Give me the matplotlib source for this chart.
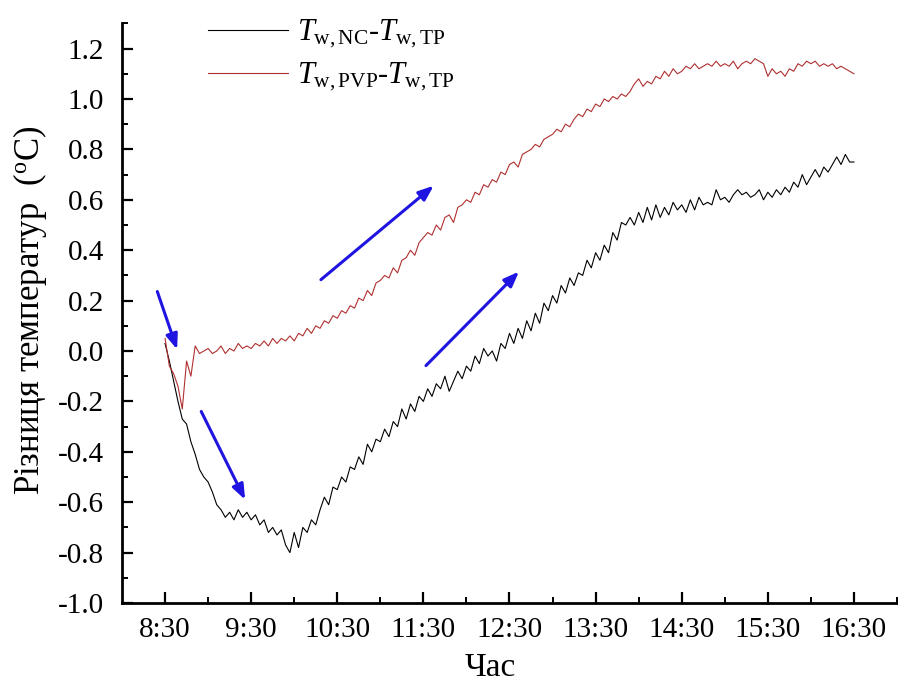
import numpy as np
import matplotlib
matplotlib.use("Agg")
import matplotlib.pyplot as plt
from matplotlib.ticker import MultipleLocator, FixedLocator

plt.rcParams['font.family'] = ['Liberation Serif', 'DejaVu Serif']
plt.rcParams['mathtext.fontset'] = 'custom'
plt.rcParams['mathtext.rm'] = 'Liberation Serif'
plt.rcParams['mathtext.it'] = 'Liberation Serif:italic'

# time in hours, one sample every 3 minutes from 8:30 to 16:30
t_start, t_step = 8.5, 0.05

nc_minus_tp = [
    0.03, -0.04, -0.12, -0.20, -0.27, -0.29, -0.36, -0.41, -0.47, -0.50,
    -0.52, -0.56, -0.61, -0.63, -0.66, -0.64, -0.67, -0.63, -0.66, -0.64,
    -0.67, -0.65, -0.69, -0.67, -0.72, -0.70, -0.73, -0.71, -0.77, -0.80,
    -0.72, -0.78, -0.70, -0.72, -0.67, -0.69, -0.63, -0.58, -0.61, -0.54,
    -0.55, -0.50, -0.52, -0.46, -0.47, -0.42, -0.45, -0.37, -0.40, -0.35,
    -0.36, -0.31, -0.34, -0.28, -0.30, -0.23, -0.27, -0.21, -0.24, -0.18,
    -0.20, -0.15, -0.18, -0.13, -0.15, -0.10, -0.16, -0.12, -0.08, -0.11,
    -0.06, -0.08, -0.02, -0.05, 0.01, -0.02, 0.00, -0.04, 0.03, 0.01,
    0.07, 0.03, 0.09, 0.05, 0.12, 0.08, 0.15, 0.11, 0.19, 0.16,
    0.22, 0.19, 0.26, 0.23, 0.29, 0.26, 0.31, 0.30, 0.36, 0.33,
    0.39, 0.36, 0.42, 0.39, 0.47, 0.44, 0.51, 0.50, 0.53, 0.50,
    0.55, 0.51, 0.57, 0.52, 0.58, 0.53, 0.57, 0.54, 0.59, 0.56,
    0.58, 0.55, 0.60, 0.56, 0.61, 0.58, 0.59, 0.58, 0.64, 0.60,
    0.61, 0.59, 0.62, 0.64, 0.62, 0.63, 0.61, 0.62, 0.64, 0.60,
    0.63, 0.61, 0.64, 0.62, 0.65, 0.63, 0.67, 0.65, 0.70, 0.66,
    0.69, 0.72, 0.69, 0.73, 0.71, 0.74, 0.77, 0.74, 0.78, 0.75,
    0.75,
]

pvp_minus_tp = [
    0.05, -0.06, -0.09, -0.14, -0.23, -0.04, -0.10, 0.02, -0.01, 0.00,
    0.01, -0.01, 0.00, 0.02, -0.01, 0.01, 0.00, 0.03, 0.01, 0.02,
    0.01, 0.03, 0.02, 0.04, 0.02, 0.05, 0.03, 0.05, 0.04, 0.06,
    0.04, 0.07, 0.06, 0.09, 0.07, 0.10, 0.09, 0.12, 0.11, 0.14,
    0.13, 0.16, 0.15, 0.18, 0.17, 0.21, 0.20, 0.24, 0.22, 0.27,
    0.28, 0.30, 0.29, 0.33, 0.31, 0.36, 0.37, 0.40, 0.38, 0.43,
    0.45, 0.47, 0.46, 0.50, 0.48, 0.53, 0.54, 0.51, 0.57, 0.58,
    0.60, 0.59, 0.63, 0.62, 0.66, 0.65, 0.68, 0.67, 0.71, 0.70,
    0.74, 0.75, 0.73, 0.78, 0.79, 0.80, 0.82, 0.81, 0.84, 0.85,
    0.86, 0.88, 0.87, 0.90, 0.89, 0.92, 0.94, 0.93, 0.96, 0.95,
    0.98, 0.97, 1.00, 0.99, 1.01, 1.00, 1.02, 1.01, 1.03, 1.06,
    1.08, 1.05, 1.07, 1.06, 1.09, 1.08, 1.11, 1.09, 1.12, 1.10,
    1.11, 1.13, 1.12, 1.14, 1.12, 1.13, 1.14, 1.13, 1.15, 1.13,
    1.14, 1.13, 1.15, 1.12, 1.14, 1.15, 1.14, 1.16, 1.15, 1.14,
    1.09, 1.12, 1.10, 1.11, 1.09, 1.12, 1.11, 1.14, 1.13, 1.15,
    1.14, 1.15, 1.13, 1.14, 1.13, 1.14, 1.12, 1.13, 1.12, 1.11,
    1.10,
]

tick_hours = [8.5, 9.5, 10.5, 11.5, 12.5, 13.5, 14.5, 15.5, 16.5]
tick_labels = ["8:30", "9:30", "10:30", "11:30", "12:30", "13:30", "14:30", "15:30", "16:30"]

# arrows: (tail_x, tail_y, head_x, head_y) in data units
arrows = [
    (8.41, 0.236, 8.64, 0.006),
    (8.92, -0.240, 9.43, -0.590),
    (10.31, 0.283, 11.62, 0.656),
    (11.53, -0.058, 12.61, 0.315),
]

t = t_start + t_step * np.arange(len(nc_minus_tp))

W, H = 898, 690
fig = plt.figure(figsize=(W / 100, H / 100), dpi=100)
ax_h = 603 - 23.4
ax = fig.add_axes([122 / W, 1 - 603 / H, 775 / W, ax_h / H])

l1, = ax.plot(t, nc_minus_tp, color='black', lw=0.8,
              label=r'$T_{\mathrm{w,NC}}$-$T_{\mathrm{w,TP}}$')
l2, = ax.plot(t, pvp_minus_tp, color='#b03030', lw=0.8,
              label=r'$T_{\mathrm{w,PVP}}$-$T_{\mathrm{w,TP}}$')

for (x0, y0, x1, y1) in arrows:
    ax.annotate('', xy=(x1, y1), xytext=(x0, y0),
                arrowprops=dict(arrowstyle='-|>,head_length=0.9,head_width=0.35',
                                color='#1f14e0', lw=2.2, shrinkA=0, shrinkB=0))

ax.set_xlim(8.0, 17.0)
ax.set_ylim(-1.0, 1.3)
ax.xaxis.set_major_locator(FixedLocator(tick_hours))
ax.set_xticklabels(tick_labels)
ax.xaxis.set_minor_locator(FixedLocator([h + 0.5 for h in tick_hours[:-1]] + [17.0]))
ax.yaxis.set_major_locator(MultipleLocator(0.2))
ax.yaxis.set_minor_locator(MultipleLocator(0.1))
ax.yaxis.set_major_formatter(matplotlib.ticker.FuncFormatter(lambda v, p: f"{v:.1f}"))

for s in ['top', 'right']:
    ax.spines[s].set_visible(False)
for s in ['left', 'bottom']:
    ax.spines[s].set_linewidth(2)

ax.tick_params(which='major', direction='in', length=8, width=1.6, labelsize=21)
ax.tick_params(axis='x', which='major', pad=10)
ax.tick_params(axis='y', which='major', pad=13)
ax.tick_params(which='minor', direction='in', length=4, width=1.4)

ax.set_xlabel('Час', fontsize=24)
ax.set_ylabel(r'Різниця температур  ($^{\mathrm{o}}$C)', fontsize=25)
ax.xaxis.set_label_coords((490 - 122) / 775, (603 - 668) / ax_h)
ax.xaxis.label.set_va('center')
ax.yaxis.set_label_coords((30 - 122) / 775, (603 - 310) / ax_h)
ax.yaxis.label.set_va('center')

leg = ax.legend(handles=[l1, l2], loc='upper left', bbox_to_anchor=(193 / W, 1 - 3 / H),
                bbox_transform=fig.transFigure, frameon=False, fontsize=22,
                handlelength=2.6, handletextpad=0.3, labelspacing=0.35, borderpad=0)

fig.savefig('out.png', dpi=100)
